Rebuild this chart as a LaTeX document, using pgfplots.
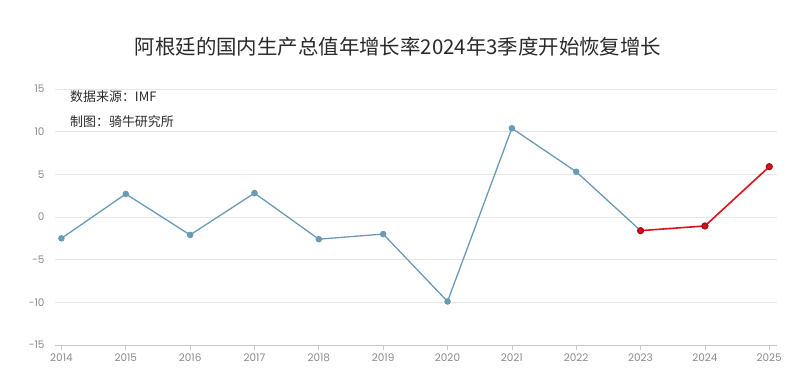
\documentclass[border=0pt]{standalone}
\usepackage{fontspec}
\setmainfont{Noto Sans CJK SC}
\newfontfamily\tickfont{Poppins}
\usepackage{pgfplots}
\pgfplotsset{compat=1.18}
\definecolor{blueline}{HTML}{6A9AB4}
\definecolor{redline}{HTML}{E0101A}
\definecolor{gridc}{HTML}{E6E6E6}
\definecolor{tickc}{HTML}{8A8A8A}
\definecolor{textc}{HTML}{2A2A2A}
\begin{document}
\begin{tikzpicture}
\path[use as bounding box] (0,0) rectangle (800bp,389bp);
\begin{axis}[
  at={(55bp,44bp)}, anchor=south west,
  scale only axis, width=722bp, height=256bp,
  xmin=2013.9, xmax=2025.12, ymin=-15, ymax=15,
  xtick={2014,...,2025}, ytick={-15,-10,...,15},
  /pgf/number format/assume math mode=true,
  xticklabel style={font=\tickfont\fontsize{10.5}{12}\selectfont, text=tickc},
  yticklabel style={font=\tickfont\fontsize{10.5}{12}\selectfont, text=tickc, xshift=-2bp},
  xticklabel={\pgfmathprintnumber[1000 sep={},fixed]{\tick}},
  axis x line*=bottom, axis y line*=left,
  y axis line style={draw=none},
  x axis line style={draw=gridc!70!gray, line width=0.8pt},
  ymajorgrids, grid style={draw=gridc, line width=0.6pt},
  major tick length=5bp,
  xtick style={draw=gridc!70!gray, line width=0.6pt},
  ytick style={draw=none},
  tick align=outside,
  clip=false,
]
\addplot[blueline, line width=1.3pt, mark=*, mark size=2.6pt, mark options={fill=blueline, draw=blueline}] coordinates {
(2014,-2.5) (2015,2.7) (2016,-2.1) (2017,2.8) (2018,-2.6) (2019,-2.0) (2020,-9.9) (2021,10.4) (2022,5.3) (2023,-1.6)};
\addplot[redline, line width=1.6pt, mark=*, mark size=2.8pt, mark options={fill=redline, draw=redline!80!black}] coordinates {
(2023,-1.6) (2024,-1.05) (2025,5.9)};
\end{axis}
\node[anchor=center, text=textc, font=\fontsize{20.5}{24}\selectfont] at (398bp,342bp) {阿根廷的国内生产总值年增长率2024年3季度开始恢复增长};
\node[anchor=west, text=textc, font=\fontsize{13}{15}\selectfont, inner sep=0pt] at (70bp,292bp) {数据来源：IMF};
\node[anchor=west, text=textc, font=\fontsize{13}{15}\selectfont, inner sep=0pt] at (70bp,267bp) {制图：骑牛研究所};
\end{tikzpicture}
\end{document}
